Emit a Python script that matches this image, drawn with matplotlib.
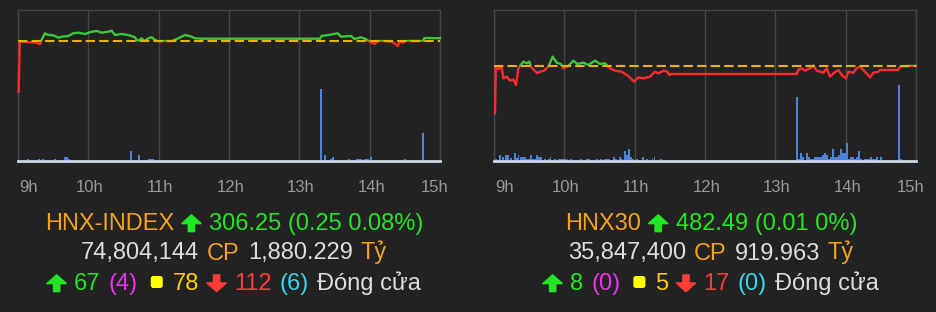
import matplotlib
matplotlib.use("Agg")
import matplotlib.pyplot as plt
from matplotlib.patches import Rectangle, Polygon, FancyBboxPatch
from matplotlib.transforms import ScaledTranslation

# ---- data (minutes after 9:00) ----
hnx_ref = 306.00
hnx_t = [0.5, 1.5, 8.8, 15, 18.8, 20.2, 23.0, 25.9, 28.7, 31.6, 34.4, 37.3, 42.9, 47.2, 51.5,
         57.2, 62.9, 67.1, 71.4, 77.1, 79.9, 82.8, 88.4, 94.1, 99.8, 102, 105.5, 108, 111.2,
         114.0, 116.9, 119.7, 125.4, 131.1, 136.8, 142.5, 148.1, 151.0, 156.7, 257.6, 259,
         265, 272.8, 275.6, 284.1, 287, 292.7, 297, 299.9, 304.2, 307, 314, 318.3, 321.2,
         324, 325.5, 328.3, 331.2, 336.8, 345.3, 346.8, 360]
hnx_p = [300.90, 305.93, 305.84, 305.82, 305.64, 306.10, 306.74, 306.57, 306.57, 306.47,
         306.30, 306.40, 306.47, 306.74, 306.80, 306.67, 306.90, 306.97, 306.80, 306.90,
         307.00, 306.57, 306.67, 306.57, 306.34, 305.96, 306.24, 305.97, 306.24, 306.34,
         306.07, 305.94, 305.97, 305.96, 306.24, 306.57, 306.40, 306.24, 306.20, 306.20,
         306.47, 306.57, 306.74, 306.40, 306.47, 306.17, 306.34, 306.14, 305.90, 305.67,
         305.97, 305.96, 305.90, 305.74, 305.47, 305.90, 305.80, 305.97, 305.97, 305.97,
         306.27, 306.25]
hnx_vol_t = [8.8, 17.9, 21.3, 31.6, 40.1, 42.1, 43.5, 96.4, 103.2, 112, 113, 114, 115,
             258.5, 261.9, 267, 268.4, 282.3, 289.5, 290.5, 291.5, 292.5, 296, 297, 298,
             299, 301.1, 330.1, 345.5]
hnx_vol = [46, 46, 46, 46, 86, 86, 46, 200, 126, 46, 46, 46, 46, 1434, 120, 40, 80, 40,
           40, 40, 40, 40, 40, 40, 40, 40, 80, 40, 560]

hnx30_ref = 482.48
hnx30_t = [0.85, 1.5, 3.7, 6.6, 8.0, 10.8, 13.7, 16.5, 18.8, 20.8, 22.8, 25.0, 27.9, 30.2,
           31.3, 33.6, 37.0, 39.2, 42.7, 46.4, 50.1, 53.5, 56.9, 59.2, 63.4, 67.7, 71.1,
           76.2, 80.5, 86.2, 90.4, 94.7, 99.0, 103.2, 108.9, 114.6, 119.4, 123.1, 127.4,
           133.1, 137.4, 140.2, 144.5, 147.9, 149.6, 151, 258.2, 259.6, 262.5, 265.3,
           269.6, 272.4, 275.3, 281.0, 283.8, 286.6, 289.5, 293.8, 296.6, 300.3, 302.3,
           306.6, 309.4, 312.3, 316.5, 320.8, 323.6, 327.9, 329.3, 344.9, 346.5, 355, 360]
hnx30_p = [475.38, 482.38, 481.98, 482.28, 480.63, 480.88, 480.28, 480.48, 479.63, 482.13,
           482.63, 483.13, 482.88, 483.13, 482.38, 481.98, 481.38, 481.63, 481.78, 482.38,
           483.88, 482.98, 482.78, 482.13, 482.50, 483.28, 482.78, 482.98, 482.63, 483.28,
           482.78, 482.88, 482.13, 481.78, 481.63, 480.98, 480.13, 480.78, 480.63, 480.88,
           481.63, 481.38, 481.78, 481.63, 481.13, 481.28, 481.28, 481.88, 482.13, 481.78,
           482.13, 482.55, 481.78, 481.48, 482.13, 480.88, 481.38, 481.88, 481.13, 480.63,
           481.63, 481.48, 482.13, 482.38, 481.63, 480.78, 481.48, 481.63, 481.88, 481.88,
           482.40, 482.49, 482.49]
hnx30_vol_t = [1.7, 5.1, 7.4, 10.2, 12.2, 14.2, 17.6, 19.3, 21.0, 22.8, 24.5, 26.2, 27.9,
               29.6, 31.3, 33.0, 34.7, 36.4, 38.1, 39.8, 43.2, 46.6, 48.3, 51.8, 55.2, 56.9,
               58.6, 60.6, 62.6, 65.4, 74.0, 79.1, 80.8, 87.6, 91.0, 94.4, 96.1, 97.8, 102.4,
               104.1, 107.5, 109.2, 111.5, 113.2, 114.9, 116.6, 118.3, 121.7, 126.8, 130.2,
               135.3, 137.0, 142.2,
               258.5, 260.3, 262.0, 263.7, 267.1, 268.8, 270.5, 272.2, 273.9, 275.7, 277.4,
               279.1, 280.8, 282.5, 284.2, 285.9, 287.6, 289.3, 291.0, 292.7, 294.4, 296.1,
               297.8, 299.5, 301.2, 302.9, 304.6, 306.3, 308.0, 309.7, 311.5, 313.2, 316.6,
               318.3, 320.0, 321.7, 323.4, 325.1, 326.8, 330.2, 345.6, 347.3]
hnx30_vol = [34, 114, 80, 114, 114, 66, 154, 66, 114, 80, 80, 80, 34, 34, 120, 34, 34, 114,
             80, 80, 34, 34, 80, 34, 34, 34, 34, 34, 34, 34, 34, 34, 34, 34, 34, 34, 34, 34,
             80, 34, 80, 34, 200, 114, 234, 80, 34, 34, 80, 34, 34, 80, 34,
             1280, 40, 160, 80, 160, 80, 40, 40, 80, 80, 80, 80, 120, 160, 120, 40, 80, 240,
             80, 80, 120, 240, 160, 160, 360, 40, 80, 80, 40, 80, 200, 40, 40, 40, 40, 80,
             40, 40, 80, 80, 1520, 40]

hour_ticks = [0, 60, 120, 180, 240, 300, 360]
hour_labels = ["9h", "10h", "11h", "12h", "13h", "14h", "15h"]

BG = "#222222"
ORANGE = "#f5a31c"
GREEN = "#22e622"
LIGHT = "#dddddd"
MAGENTA = "#ee33ee"
YELLOW = "#ffff00"
GOLD = "#ffcc00"
RED = "#ff3a3a"
CYAN = "#33d8ee"

hnx_lines = [
    [("t", "HNX-INDEX", ORANGE), ("up", "", GREEN), ("t", "306.25 (0.25 0.08%)", GREEN)],
    [("t", "74,804,144", LIGHT), ("t", "CP", ORANGE), ("t", "1,880.229", LIGHT), ("t", "Tỷ", ORANGE)],
    [("up", "", GREEN), ("t", "67", GREEN), ("t", "(4)", MAGENTA), ("sq", "", YELLOW),
     ("t", "78", GOLD), ("dn", "", RED), ("t", "112", RED), ("t", "(6)", CYAN),
     ("t", "Đóng cửa", LIGHT)],
]
hnx30_lines = [
    [("t", "HNX30", ORANGE), ("up", "", GREEN), ("t", "482.49 (0.01 0%)", GREEN)],
    [("t", "35,847,400", LIGHT), ("t", "CP", ORANGE), ("t", "919.963", LIGHT), ("t", "Tỷ", ORANGE)],
    [("up", "", GREEN), ("t", "8", GREEN), ("t", "(0)", MAGENTA), ("sq", "", YELLOW),
     ("t", "5", GOLD), ("dn", "", RED), ("t", "17", RED), ("t", "(0)", CYAN),
     ("t", "Đóng cửa", LIGHT)],
]

FONT = "Liberation Sans"
W, H = 936, 312

fig = plt.figure(figsize=(W / 100, H / 100), dpi=100, facecolor=BG)


def draw_chart(left_px, t, p, ref, vt, vol, ylim):
    ax = fig.add_axes([left_px / W, 1 - 161 / H, 422 / W, 151 / H], facecolor=BG)
    ax.bar(vt, vol, width=1.5, color="#4a84dc", linewidth=0, zorder=2)
    ax.set_xlim(0, 360)
    ax.set_ylim(0, 3020)
    ax.set_yticks([])
    ax.set_xticks(hour_ticks, hour_labels)
    ax.tick_params(axis="x", length=0, pad=13.5, labelsize=12, labelcolor="#999999")
    labels = ax.get_xticklabels()
    for lab in labels:
        lab.set_fontfamily(FONT)
        # tick labels in the reference sit a pixel or two right of the gridline
        lab.set_transform(lab.get_transform() + ScaledTranslation(1.5 / 100, 0, fig.dpi_scale_trans))
    labels[0].set_horizontalalignment("left")
    labels[-1].set_transform(labels[-1].get_transform() + ScaledTranslation(-6.5 / 100, 0, fig.dpi_scale_trans))
    ax.grid(axis="x", color="#454545", lw=1)
    ax.set_axisbelow(True)
    for s in ["top", "left", "right"]:
        ax.spines[s].set_color("#454545")
        ax.spines[s].set_linewidth(1)
    ax.spines["bottom"].set_color("#cdd5e6")
    ax.spines["bottom"].set_linewidth(2)

    tw = ax.twinx()
    tw.set_ylim(*ylim)
    tw.set_yticks([])
    for s in tw.spines.values():
        s.set_visible(False)
    green_line, = tw.plot(t, p, color="#3cc83c", lw=1.7, solid_joinstyle="round")
    red_line, = tw.plot(t, p, color="#ff2b2b", lw=1.7, solid_joinstyle="round")
    green_line.set_clip_path(Rectangle((-10, ref), 400, 100, transform=tw.transData))
    red_line.set_clip_path(Rectangle((-10, ref - 100), 400, 100, transform=tw.transData))
    tw.axhline(ref, color="#e8b400", lw=1.5, dashes=(4.5, 2), zorder=5)
    return ax


ax1 = draw_chart(18, hnx_t, hnx_p, hnx_ref, hnx_vol_t, hnx_vol, (293.97, 309.07))
ax2 = draw_chart(494, hnx30_t, hnx30_p, hnx30_ref, hnx30_vol_t, hnx30_vol, (468.23, 490.88))

# ---- text block below the charts, in pixel coordinates ----
ov = fig.add_axes([0, 0, 1, 1])
ov.set_xlim(0, W)
ov.set_ylim(H, 0)
ov.axis("off")
ov.patch.set_alpha(0)
renderer = fig.canvas.get_renderer()
FS = 17


def arrow(x0, base, up, color):
    w, h, hh, sw = 19, 16.5, 8.5, 3
    top = base - h
    cx = x0 + w / 2
    pts = [(cx, top), (x0 + w, top + hh), (cx + sw, top + hh), (cx + sw, base),
           (cx - sw, base), (cx - sw, top + hh), (x0, top + hh)]
    if not up:
        pts = [(x, top + base - y) for x, y in pts]
    ov.add_patch(Polygon(pts, closed=True, facecolor=color, edgecolor=color,
                         lw=1.2, joinstyle="round"))


def draw_text_line(pieces, cx, base):
    items = []
    for kind, s, color in pieces:
        if kind == "t":
            txt = ov.text(0, base, s, color=color, fontsize=FS, family=FONT,
                          ha="left", va="baseline")
            items.append((kind, txt, txt.get_window_extent(renderer).width, color))
        elif kind == "sq":
            items.append((kind, None, 12, color))
        else:
            items.append((kind, None, 19, color))
    gaps = []
    for a, b in zip(items[:-1], items[1:]):
        if b[0] == "sq":
            gaps.append(13)
        elif a[0] == "sq":
            gaps.append(10)
        elif a[0] in ("up", "dn") or b[0] in ("up", "dn"):
            gaps.append(8)
        else:
            gaps.append(8)
    total = sum(i[2] for i in items) + sum(gaps)
    x = cx - total / 2
    for k, (kind, txt, w, color) in enumerate(items):
        if kind == "t":
            txt.set_x(x)
        elif kind == "sq":
            ov.add_patch(FancyBboxPatch((x + 1.5, base - 12.5), 9, 9,
                                        boxstyle="round,pad=1.5,rounding_size=2.5",
                                        facecolor=color, edgecolor="none"))
        else:
            arrow(x, base + 1.5, kind == "up", color)
        x += w + (gaps[k] if k < len(gaps) else 0)


for lines, cx in ((hnx_lines, 234), (hnx30_lines, 711)):
    for line, base in zip(lines, (230, 259.5, 290)):
        draw_text_line(line, cx, base)

fig.savefig("out.png", dpi=100, facecolor=BG)
